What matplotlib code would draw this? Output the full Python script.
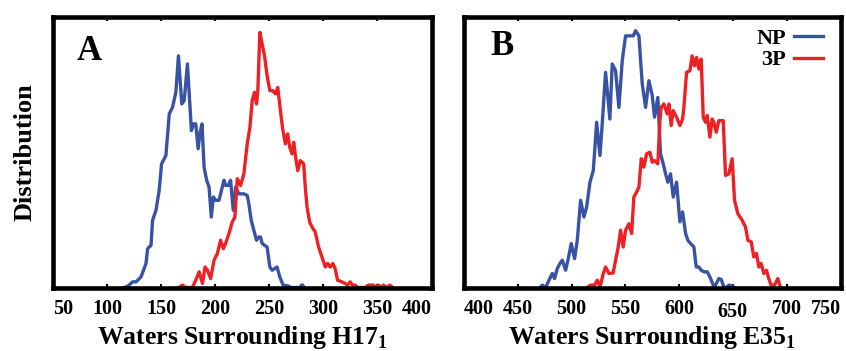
import matplotlib
matplotlib.use('Agg')
import matplotlib.pyplot as plt
from matplotlib.lines import Line2D
from matplotlib.transforms import ScaledTranslation

plt.rcParams['font.family'] = 'Liberation Serif'
plt.rcParams['font.weight'] = 'bold'
plt.rcParams['axes.labelweight'] = 'bold'
plt.rcParams['mathtext.fontset'] = 'custom'
plt.rcParams['mathtext.rm'] = 'Liberation Serif:bold'
plt.rcParams['mathtext.bf'] = 'Liberation Serif:bold'

BLUE = '#3953a4'
RED = '#ed2024'

# Panel A: waters around H17 (NP = blue, 3P = red), heights
h17_np_x = [116.0, 119.1, 123.7, 126.8, 131.4, 136.0, 137.5, 140.6, 142.1, 145.2, 148.2, 150.4,
            154.4, 157.5, 160.5, 163.6, 166.0, 169.1, 171.3, 174.3, 178.0, 179.9, 182.0, 184.2,
            186.0, 187.8, 189.7, 192.1, 194.3, 196.4, 198.3, 200.4, 203.5, 208.1, 209.6, 212.1,
            214.2, 216.7, 218.9, 221.9, 226.5, 229.6, 231.1, 233.3, 235.7, 238.2, 240.3, 241.9,
            243.4, 245.6, 248.0, 250.5, 252.6, 254.8, 257.2, 259.7, 262.8, 268.0, 270.1, 278.1,
            280.3, 282.4]
h17_np_y = [0, 0.5, 2.1, 2.1, 3.9, 8.9, 14.4, 15.6, 24.9, 28.6, 36.0, 45.8,
            48.9, 64.3, 66.7, 72.3, 85.8, 68.0, 69.2, 82.8, 58.1, 60.6, 60.6, 51.4,
            57.5, 60.6, 44.6, 39.7, 37.2, 26.1, 33.5, 32.3, 32.3, 39.7, 37.8, 37.8,
            39.7, 28.6, 37.2, 34.7, 34.7, 34.1, 31.0, 24.9, 21.2, 17.5, 18.7, 18.7,
            16.3, 15.6, 15.0, 7.6, 6.4, 7.0, 7.6, 3.9, 0.9, 0.5, 0, 0,
            1.0, 0]
h17_3p_x = [166.7, 169.7, 172.8, 178.9, 182.0, 185.1, 188.2, 190.6, 192.8, 195.8, 198.9, 202.0,
            205.0, 207.5, 209.6, 212.7, 215.8, 218.2, 220.4, 223.5, 226.5, 229.6, 232.1, 234.2,
            236.3, 238.2, 239.4, 241.3, 243.4, 245.6, 248.0, 250.5, 253.2, 255.7, 257.8, 260.3,
            262.4, 264.9, 267.0, 268.9, 271.0, 272.6, 274.1, 276.3, 278.7, 281.8, 283.3, 284.9,
            287.3, 289.5, 292.5, 295.6, 298.7, 301.8, 303.9, 306.3, 308.8, 310.9, 313.1, 317.1,
            320.2, 322.3, 324.8, 326.9, 329.4, 331.5, 338.6, 341.7, 346.3, 349.3, 350.9, 353.9,
            355.5, 358.5, 361.6, 364.1]
h17_3p_y = [0, 0.9, 0, 0, 2.7, 5.8, 1.5, 7.6, 6.4, 3.3, 10.1, 12.6,
            17.5, 14.4, 16.3, 20.0, 24.3, 26.1, 40.3, 37.8, 42.1, 53.2, 59.4, 69.2,
            72.3, 68.0, 72.9, 94.5, 90.1, 85.8, 78.4, 72.9, 72.9, 71.7, 74.1, 65.5,
            58.7, 53.2, 56.9, 52.0, 49.5, 53.8, 48.9, 43.3, 47.0, 45.8, 37.2, 29.8,
            24.3, 22.4, 20.6, 15.0, 11.3, 7.6, 8.9, 7.6, 8.9, 7.0, 2.7, 2.1,
            1.5, 0.9, 2.1, 0.9, 0.9, 0, 0, 0.9, 0.9, 0, 0.9, 0,
            0.9, 0, 0.9, 0]

# Panel B: waters around E35
e35_np_x = [470.6, 472.8, 475.9, 479.0, 482.1, 484.2, 486.7, 489.2, 491.4, 494.5, 496.6, 499.7,
            502.8, 505.3, 508.4, 511.5, 514.0, 517.1, 520.2, 523.3, 526.4, 528.5, 531.6, 535.6,
            537.8, 540.9, 544.0, 547.1, 550.2, 554.9, 557.3, 559.5, 562.6, 565.7, 568.8, 571.9,
            575.0, 577.1, 580.2, 582.7, 585.2, 587.4, 589.5, 592.0, 594.5, 597.6, 600.7, 603.2,
            606.0, 608.1, 610.6, 613.7, 615.9, 618.3, 620.5, 623.0, 626.1, 628.6, 631.7, 633.8,
            636.9, 639.1, 641.6, 644.0, 646.2, 649.3, 651.5]
e35_np_y = [0, 0.9, 0, 2.7, 5.2, 3.3, 7.0, 8.9, 10.1, 6.4, 10.1, 16.3,
            10.7, 17.5, 32.3, 26.1, 29.8, 39.0, 43.3, 61.2, 48.9, 60.6, 79.7, 62.4,
            82.8, 80.3, 66.7, 84.0, 93.2, 93.2, 93.2, 95.1, 93.2, 75.4, 66.7, 76.6,
            71.1, 63.1, 70.4, 49.5, 45.8, 42.1, 39.0, 42.1, 33.5, 39.0, 24.3, 28.0,
            20.0, 17.5, 16.3, 15.0, 7.6, 7.6, 6.4, 5.8, 5.8, 3.9, 0.9, 0.9,
            3.3, 3.0, 0.2, 0, 0.9, 0.5, 0]
e35_3p_x = [514.6, 517.7, 521.4, 523.9, 526.4, 529.5, 531.6, 534.7, 538.7, 540.9, 543.1, 545.6,
            548.0, 550.2, 553.3, 555.8, 557.9, 560.4, 562.6, 564.8, 567.2, 569.7, 572.8, 575.0,
            577.1, 580.2, 582.1, 583.3, 585.8, 588.9, 590.5, 592.6, 594.5, 597.6, 600.7, 603.2,
            604.4, 606.9, 610.0, 612.1, 614.3, 616.2, 618.3, 620.5, 622.4, 624.5, 626.1, 628.6,
            630.7, 632.3, 634.5, 636.9, 641.0, 643.1, 646.2, 649.3, 651.5, 654.6, 658.6, 661.7,
            663.9, 667.0, 669.4, 671.9, 674.1, 676.2, 678.7, 681.2, 683.3, 685.5, 688.6, 691.7,
            694.2]
e35_3p_y = [0, 0.9, 0.9, 2.7, 0.2, 5.2, 7.6, 5.2, 5.4, 10.1, 14.4, 21.2,
            15.0, 21.2, 23.6, 20.0, 33.5, 35.3, 37.2, 47.7, 44.6, 49.5, 50.1, 46.4,
            47.0, 45.8, 61.8, 66.7, 68.0, 64.3, 68.0, 60.0, 65.5, 63.1, 60.0, 62.4,
            66.7, 79.7, 80.3, 85.8, 82.1, 85.2, 80.9, 84.6, 63.1, 61.2, 63.7, 55.7,
            62.4, 61.2, 57.5, 61.8, 61.8, 41.5, 42.1, 47.7, 32.3, 27.3, 24.9, 22.4,
            17.5, 16.9, 11.3, 12.6, 7.6, 8.9, 5.2, 6.4, 3.3, 0.9, 0.9, 3.3,
            0]

ticks_a = [50, 100, 150, 200, 250, 300, 350, 400]
ticks_b = [400, 450, 500, 550, 600, 650, 700, 750]
series_labels = ['NP', '3P']

fig = plt.figure(figsize=(8.46, 3.51), dpi=100)
ax_a = fig.add_axes([53 / 846, 63.5 / 351, 378.5 / 846, 270 / 351])
ax_b = fig.add_axes([464 / 846, 63.5 / 351, 376.5 / 846, 270 / 351])


def style_axis(ax, ticks, xlabel):
    ax.set_xlim(ticks[0], ticks[-1])
    ax.set_ylim(0, 100)
    ax.set_xticks(ticks)
    ax.set_yticks([])
    for sp in ax.spines.values():
        sp.set_linewidth(3.3)
        sp.set_zorder(5)
    ax.tick_params(axis='x', direction='in', top=True, bottom=True, length=3,
                   width=1.5, labelsize=14.5, pad=8)
    # end labels sit inside the frame edges, like the original
    labels = ax.get_xticklabels()
    labels[0].set_horizontalalignment('left')
    labels[-1].set_horizontalalignment('right')
    ax.set_xlabel(xlabel, fontsize=18.5)
    ax.xaxis.set_label_coords(0.5, -0.137)


ax_a.plot(h17_np_x, h17_np_y, color=BLUE, lw=2.4)
ax_a.plot(h17_3p_x, h17_3p_y, color=RED, lw=2.4)
style_axis(ax_a, ticks_a, 'Waters Surrounding H17$_1$')
ax_a.set_ylabel('Distribution', fontsize=19, labelpad=12)
ax_a.text(0.096, 0.844, 'A', transform=ax_a.transAxes, fontsize=25,
          ha='center', va='baseline')

ax_b.plot(e35_np_x, e35_np_y, color=BLUE, lw=2.4)
ax_b.plot(e35_3p_x, e35_3p_y, color=RED, lw=2.4)
style_axis(ax_b, ticks_b, 'Waters Surrounding E35$_1$')
# the 650 label sits a little lower in the original
lab650 = ax_b.get_xticklabels()[5]
lab650.set_transform(lab650.get_transform() + ScaledTranslation(0, -2.5 / 72, fig.dpi_scale_trans))
ax_b.text(0.102, 0.86, 'B', transform=ax_b.transAxes, fontsize=25,
          ha='center', va='baseline')

handles = [Line2D([], [], color=BLUE, lw=2.4), Line2D([], [], color=RED, lw=2.4)]
ax_b.legend(handles, series_labels, loc='upper right', bbox_to_anchor=(1.0, 1.026),
            frameon=False, markerfirst=False, fontsize=16, handlelength=1.3,
            handletextpad=0.35, labelspacing=0.05, borderaxespad=0.5, borderpad=0.3)

fig.savefig('out.png', dpi=100)
